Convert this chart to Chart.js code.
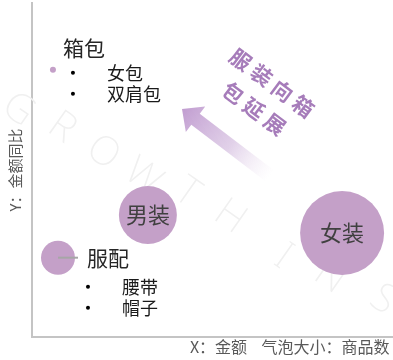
<!DOCTYPE html>
<html>
<head>
<meta charset="utf-8">
<script src="https://cdn.jsdelivr.net/npm/chart.js@4/dist/chart.umd.min.js"></script>
<style>
  html, body { margin: 0; padding: 0; background: #fff; }
  #box { width: 393px; height: 360px; position: relative; }
</style>
</head>
<body>
<div id="box"><canvas id="bolhas"></canvas></div>
<script>
// dados do grafico
const categorias = ['箱包', '男装', '服配', '女装'];
const valorX = [5.8, 32.1, 7.2, 85.9];      // X: 金额
const valorY = [80, 36.5, 23.7, 31.1];      // Y: 金额同比
const tamanho = [3, 29, 17, 42];            // 气泡大小: 商品数
const subItens = [['女包', '双肩包'], [], ['腰带', '帽子'], []];
const setaTexto = ['服装向箱', '包延展'];

const fonte = "'Noto Sans CJK SC', 'Noto Sans', sans-serif";
const corBolha = 'rgb(196,160,200)';

const pontos = categorias.map((c, i) => ({ x: valorX[i], y: valorY[i], r: tamanho[i] }));

// marca d'agua + seta
const fundo = {
  id: 'fundo',
  beforeDatasetsDraw(chart) {
    const ctx = chart.ctx;
    ctx.save();
    // letras da marca d'agua
    const letras = [['G', 18, 110], ['R', 62, 128], ['O', 103, 153], ['W', 143, 177], ['T', 187, 193],
      ['H', 230, 217], ['I', 283, 257], ['N', 330, 277], ['S', 383, 300]];
    ctx.fillStyle = '#f0f0f0';
    ctx.font = '200 40px "Noto Sans"';
    ctx.textAlign = 'center';
    ctx.textBaseline = 'middle';
    letras.forEach(l => {
      ctx.save();
      ctx.translate(l[1], l[2]);
      ctx.rotate(35 * Math.PI / 180);
      ctx.fillText(l[0], 0, 0);
      ctx.restore();
    });

    // seta
    const ponta = { x: 182, y: 109 };
    const cauda = { x: 270, y: 176 };
    const dx = cauda.x - ponta.x, dy = cauda.y - ponta.y;
    const len = Math.hypot(dx, dy);
    const ux = dx / len, uy = dy / len;
    const nx = -uy, ny = ux;
    const cab = 17, meiaCab = 16, meiaHaste = 7;
    const bx = ponta.x + ux * cab, by = ponta.y + uy * cab;
    const grad = ctx.createLinearGradient(ponta.x, ponta.y, cauda.x, cauda.y);
    grad.addColorStop(0, 'rgba(190,152,206,0.95)');
    grad.addColorStop(0.55, 'rgba(205,178,218,0.6)');
    grad.addColorStop(1, 'rgba(230,215,236,0)');
    ctx.fillStyle = grad;
    ctx.beginPath();
    ctx.moveTo(ponta.x, ponta.y);
    ctx.lineTo(bx + nx * meiaCab, by + ny * meiaCab);
    ctx.lineTo(bx + nx * meiaHaste, by + ny * meiaHaste);
    ctx.lineTo(cauda.x + nx * meiaHaste, cauda.y + ny * meiaHaste);
    ctx.lineTo(cauda.x - nx * meiaHaste, cauda.y - ny * meiaHaste);
    ctx.lineTo(bx - nx * meiaHaste, by - ny * meiaHaste);
    ctx.lineTo(bx - nx * meiaCab, by - ny * meiaCab);
    ctx.closePath();
    ctx.fill();

    // texto girado
    ctx.fillStyle = '#a67cba';
    ctx.font = 'bold 21px ' + fonte;
    const ang = 36.7 * Math.PI / 180;
    const centros = [{ x: 272, y: 83 }, { x: 254, y: 108.5 }];
    setaTexto.forEach((linha, li) => {
      const n = linha.length;
      const passo = 26;
      for (let k = 0; k < n; k++) {
        const off = (k - (n - 1) / 2) * passo;
        ctx.save();
        ctx.translate(centros[li].x + Math.cos(ang) * off, centros[li].y + Math.sin(ang) * off);
        ctx.rotate(ang);
        ctx.fillText(linha[k], 0, 0);
        ctx.restore();
      }
    });
    ctx.restore();
  }
};

// rotulos das bolhas
const rotulos = {
  id: 'rotulos',
  afterDatasetsDraw(chart) {
    const ctx = chart.ctx;
    const meta = chart.getDatasetMeta(0);
    ctx.save();
    ctx.textBaseline = 'middle';
    meta.data.forEach((el, i) => {
      const nome = categorias[i];
      if (tamanho[i] >= 25) {
        ctx.fillStyle = '#404040';
        ctx.font = '22px ' + fonte;
        ctx.textAlign = 'center';
        ctx.fillText(nome, el.x, el.y);
        return;
      }
      let tituloX, tituloY, bulletX, textoX, primeiraY;
      if (i === 0) {
        tituloX = el.x + 10; tituloY = el.y - 22;
        bulletX = el.x + 20; textoX = el.x + 54; primeiraY = el.y + 3;
      } else {
        ctx.strokeStyle = '#a6a6a6';
        ctx.lineWidth = 2;
        ctx.beginPath();
        ctx.moveTo(el.x, el.y);
        ctx.lineTo(el.x + 20, el.y);
        ctx.stroke();
        tituloX = el.x + 29; tituloY = el.y;
        bulletX = el.x + 30; textoX = el.x + 64; primeiraY = el.y + 29;
      }
      ctx.fillStyle = '#262626';
      ctx.textAlign = 'left';
      ctx.font = '21px ' + fonte;
      ctx.fillText(nome, tituloX, tituloY);
      ctx.font = '18px ' + fonte;
      subItens[i].forEach((s, j) => {
        const yy = primeiraY + j * 21;
        ctx.fillStyle = '#000';
        ctx.beginPath();
        ctx.arc(bulletX, yy, 2, 0, Math.PI * 2);
        ctx.fill();
        ctx.fillStyle = '#1a1a1a';
        ctx.fillText(s, textoX, yy);
      });
    });
    ctx.restore();
  }
};

const ctx = document.getElementById('bolhas').getContext('2d');
const grafico = new Chart(ctx, {
  type: 'bubble',
  data: {
    datasets: [{
      data: pontos,
      backgroundColor: corBolha,
      borderWidth: 0,
      hoverBorderWidth: 0
    }]
  },
  options: {
    responsive: true,
    maintainAspectRatio: false,
    animation: false,
    layout: { autoPadding: false, padding: { top: 3, right: 0, left: 0, bottom: 0 } },
    plugins: {
      legend: { display: false },
      tooltip: { enabled: false }
    },
    scales: {
      x: {
        min: 0, max: 100,
        grid: { display: false, drawTicks: false },
        ticks: { display: false },
        border: { display: true, color: '#c4c4c4', width: 2 },
        title: {
          display: true,
          text: 'X：金额    气泡大小：商品数 ',
          align: 'end',
          color: '#595959',
          font: { size: 16, family: fonte },
          padding: { top: 1, bottom: 3 }
        }
      },
      y: {
        min: 0, max: 100,
        grid: { display: false, drawTicks: false },
        ticks: { display: false },
        border: { display: true, color: '#c4c4c4', width: 2 },
        title: {
          display: true,
          text: 'Y：金额同比',
          color: '#595959',
          font: { size: 15, family: fonte },
          padding: { top: 6, bottom: 8 }
        }
      }
    }
  },
  plugins: [fundo, rotulos]
});
</script>
</body>
</html>
